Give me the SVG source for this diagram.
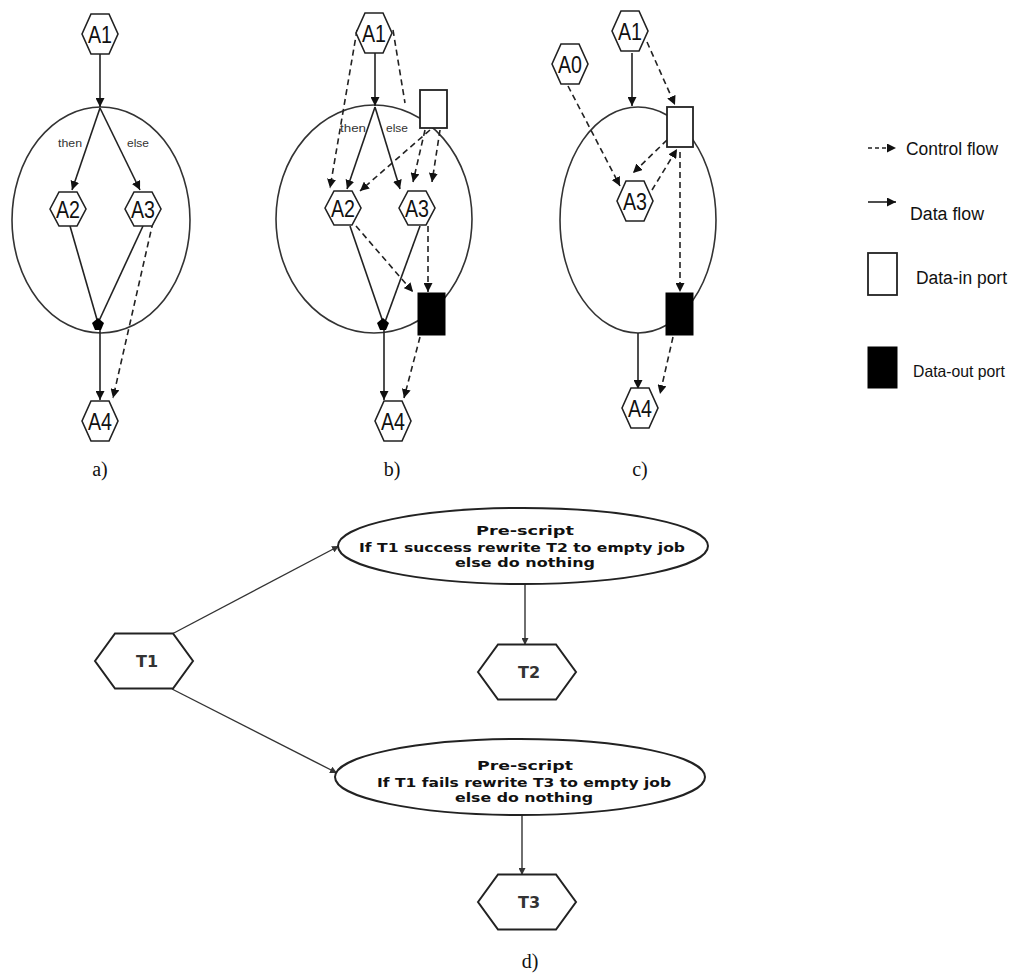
<svg xmlns="http://www.w3.org/2000/svg" width="1016" height="978" viewBox="0 0 1016 978">
<style>
.bg{fill:#fff}
.hex{fill:#fff;stroke:#222;stroke-width:1.6}
.hexd{fill:#fff;stroke:#222;stroke-width:2}
.ell{fill:none;stroke:#333;stroke-width:1.6}
.elld{fill:#fff;stroke:#222;stroke-width:2}
.data{fill:none;stroke:#222;stroke-width:1.6;marker-end:url(#ah)}
.dline{fill:none;stroke:#222;stroke-width:1.6}
.ctrl{fill:none;stroke:#222;stroke-width:1.6;stroke-dasharray:6 4;marker-end:url(#ah)}
.cline{fill:none;stroke:#222;stroke-width:1.6;stroke-dasharray:6 4}
.dd{fill:none;stroke:#333;stroke-width:1.4;marker-end:url(#ahs)}
.inp{fill:#fff;stroke:#222;stroke-width:1.8}
.outp{fill:#000;stroke:#000;stroke-width:1}
.nl{font-family:"Liberation Sans",Arial,sans-serif;font-size:24px;fill:#111;text-anchor:middle}
.lb{font-family:"Liberation Sans",Arial,sans-serif;font-size:11px;fill:#333;text-anchor:middle}
.cap{font-family:"Liberation Serif","Times New Roman",serif;font-size:20px;fill:#111;text-anchor:middle}
.lg{font-family:"Liberation Sans",Arial,sans-serif;font-size:18px;fill:#111}
.tl{font-family:"DejaVu Sans",Verdana,sans-serif;font-size:16px;font-weight:bold;fill:#333;text-anchor:middle}
.ps{font-family:"DejaVu Sans",Verdana,sans-serif;font-size:13px;font-weight:bold;fill:#111;text-anchor:middle}
</style>
<defs>
<marker id="ah" viewBox="0 0 10 10" refX="10" refY="5" markerWidth="9" markerHeight="9" markerUnits="userSpaceOnUse" orient="auto">
<path d="M0,0 L10,5 L0,10 Z" fill="#111"/>
</marker>
<marker id="ahs" viewBox="0 0 10 10" refX="10" refY="5" markerWidth="7" markerHeight="7" markerUnits="userSpaceOnUse" orient="auto">
<path d="M0,0 L10,5 L0,10 Z" fill="#333"/>
</marker>
<path id="hx" d="M-18,0 L-9,-20 L9,-20 L18,0 L9,20 L-9,20 Z"/>
<path id="hxs" d="M-18,0 L-9,-17 L9,-17 L18,0 L9,17 L-9,17 Z"/>
<path id="hxd" d="M-49,0 L-29,-27.5 L29,-27.5 L49,0 L29,27.5 L-29,27.5 Z"/>
</defs>
<rect class="bg" x="0" y="0" width="1016" height="978"/>

<!-- containers (ellipses) -->
<g id="container-a"><ellipse class="ell" cx="101" cy="220" rx="89" ry="113"/></g>
<g id="container-b"><ellipse class="ell" cx="374" cy="219" rx="98" ry="114"/></g>
<g id="container-c"><ellipse class="ell" cx="638" cy="220" rx="78" ry="113"/></g>

<!-- connectors -->
<g id="connectors">
<!-- panel a -->
<line class="data" x1="100" y1="54" x2="100" y2="107"/>
<line class="data" x1="100" y1="108" x2="72" y2="190"/>
<line class="data" x1="100" y1="108" x2="140" y2="190"/>
<line class="dline" x1="70" y1="226" x2="98" y2="323"/>
<line class="dline" x1="143" y1="226" x2="98" y2="323"/>
<line class="data" x1="100" y1="330" x2="100" y2="400"/>
<line class="ctrl" x1="153" y1="222" x2="113" y2="398"/>
<!-- panel b -->
<line class="data" x1="375" y1="53" x2="375" y2="106"/>
<line class="data" x1="375" y1="107" x2="347" y2="189"/>
<line class="data" x1="375" y1="107" x2="400" y2="189"/>
<line class="ctrl" x1="357" y1="30" x2="330" y2="188"/>
<line class="cline" x1="393" y1="30" x2="405" y2="103"/>
<line class="ctrl" x1="430" y1="130" x2="360" y2="191"/>
<line class="ctrl" x1="425" y1="130" x2="413" y2="182"/>
<line class="ctrl" x1="440" y1="130" x2="432" y2="182"/>
<line class="dline" x1="350" y1="226" x2="383" y2="322"/>
<line class="dline" x1="420" y1="226" x2="385" y2="322"/>
<line class="ctrl" x1="356" y1="226" x2="413" y2="292"/>
<line class="ctrl" x1="428" y1="226" x2="428" y2="292"/>
<line class="data" x1="384" y1="330" x2="384" y2="400"/>
<line class="ctrl" x1="420" y1="337" x2="404" y2="398"/>
<!-- panel c -->
<line class="data" x1="632" y1="53" x2="632" y2="106"/>
<line class="ctrl" x1="647" y1="42" x2="675" y2="105"/>
<line class="ctrl" x1="568" y1="86" x2="620" y2="186"/>
<line class="ctrl" x1="667" y1="140" x2="633" y2="173"/>
<line class="ctrl" x1="652" y1="190" x2="677" y2="149"/>
<line class="ctrl" x1="680" y1="152" x2="680" y2="292"/>
<line class="data" x1="638" y1="333" x2="638" y2="389"/>
<line class="ctrl" x1="673" y1="337" x2="660" y2="394"/>
<!-- panel d -->
<line class="dd" x1="172" y1="634" x2="339" y2="546"/>
<line class="dd" x1="172" y1="689" x2="337" y2="773"/>
<line class="dd" x1="525" y1="584" x2="525" y2="645"/>
<line class="dd" x1="522" y1="815" x2="522" y2="875"/>
</g>

<!-- merge points -->
<g id="merge-a"><polygon points="92,323 98,318 104,323 101,330 95,330" fill="#000"/></g>
<g id="merge-b"><polygon points="377,323 383,318 389,323 386,330 380,330" fill="#000"/></g>

<!-- labels then/else -->
<g id="cond-labels">
<text class="lb" x="70" y="147" textLength="24" lengthAdjust="spacingAndGlyphs">then</text>
<text class="lb" x="138" y="147" textLength="22" lengthAdjust="spacingAndGlyphs">else</text>
<text class="lb" x="353" y="132" textLength="26" lengthAdjust="spacingAndGlyphs">then</text>
<text class="lb" x="397" y="132" textLength="22" lengthAdjust="spacingAndGlyphs">else</text>
</g>

<!-- ports -->
<g id="port-in-b"><rect class="inp" x="420" y="90" width="27" height="38"/></g>
<g id="port-out-b"><rect class="outp" x="418" y="293" width="27" height="42"/></g>
<g id="port-in-c"><rect class="inp" x="667" y="107" width="26" height="40"/></g>
<g id="port-out-c"><rect class="outp" x="666" y="293" width="27" height="42"/></g>

<!-- panel a nodes -->
<g id="a-A1"><use href="#hx" class="hex" x="100" y="34"/><text class="nl" x="100" y="43" textLength="24" lengthAdjust="spacingAndGlyphs">A1</text></g>
<g id="a-A2"><use href="#hxs" class="hex" x="68" y="209"/><text class="nl" x="68" y="218" textLength="24" lengthAdjust="spacingAndGlyphs">A2</text></g>
<g id="a-A3"><use href="#hxs" class="hex" x="143" y="209"/><text class="nl" x="143" y="218" textLength="24" lengthAdjust="spacingAndGlyphs">A3</text></g>
<g id="a-A4"><use href="#hx" class="hex" x="100" y="421"/><text class="nl" x="100" y="430" textLength="24" lengthAdjust="spacingAndGlyphs">A4</text></g>

<!-- panel b nodes -->
<g id="b-A1"><use href="#hx" class="hex" x="374" y="33"/><text class="nl" x="374" y="42" textLength="24" lengthAdjust="spacingAndGlyphs">A1</text></g>
<g id="b-A2"><use href="#hxs" class="hex" x="343" y="208"/><text class="nl" x="343" y="217" textLength="24" lengthAdjust="spacingAndGlyphs">A2</text></g>
<g id="b-A3"><use href="#hxs" class="hex" x="417" y="208"/><text class="nl" x="417" y="217" textLength="24" lengthAdjust="spacingAndGlyphs">A3</text></g>
<g id="b-A4"><use href="#hx" class="hex" x="393" y="421"/><text class="nl" x="393" y="430" textLength="24" lengthAdjust="spacingAndGlyphs">A4</text></g>

<!-- panel c nodes -->
<g id="c-A1"><use href="#hx" class="hex" x="630" y="31"/><text class="nl" x="630" y="40" textLength="24" lengthAdjust="spacingAndGlyphs">A1</text></g>
<g id="c-A0"><use href="#hx" class="hex" x="570" y="64"/><text class="nl" x="570" y="73" textLength="24" lengthAdjust="spacingAndGlyphs">A0</text></g>
<g id="c-A3"><use href="#hx" class="hex" x="635" y="201"/><text class="nl" x="635" y="210" textLength="24" lengthAdjust="spacingAndGlyphs">A3</text></g>
<g id="c-A4"><use href="#hx" class="hex" x="640" y="408"/><text class="nl" x="640" y="417" textLength="24" lengthAdjust="spacingAndGlyphs">A4</text></g>

<!-- captions -->
<g id="captions">
<text class="cap" x="100" y="476">a)</text>
<text class="cap" x="392" y="476">b)</text>
<text class="cap" x="640" y="476">c)</text>
<text class="cap" x="530" y="968">d)</text>
</g>

<!-- legend -->
<g id="legend">
<line class="ctrl" x1="868" y1="148" x2="896" y2="148" style="stroke-dasharray:4 3"/>
<text class="lg" x="906" y="155" textLength="92" lengthAdjust="spacingAndGlyphs">Control flow</text>
<line class="data" x1="868" y1="202" x2="896" y2="202"/>
<text class="lg" x="910" y="220" textLength="74" lengthAdjust="spacingAndGlyphs">Data flow</text>
<rect class="inp" x="868" y="253" width="29" height="42"/>
<text class="lg" x="916" y="284" textLength="91" lengthAdjust="spacingAndGlyphs">Data-in port</text>
<rect class="outp" x="868" y="347" width="29" height="41"/>
<text class="lg" x="913" y="377" style="font-size:16.5px" textLength="92" lengthAdjust="spacingAndGlyphs">Data-out port</text>
</g>

<!-- panel d nodes -->
<g id="d-T1"><use href="#hxd" class="hexd" x="144" y="661"/><text class="tl" x="147" y="667">T1</text></g>
<g id="d-pre1"><ellipse class="elld" cx="523" cy="546" rx="185" ry="38"/>
<text class="ps" x="525" y="535" textLength="98" lengthAdjust="spacingAndGlyphs">Pre-script</text>
<text class="ps" x="522" y="552" textLength="326" lengthAdjust="spacingAndGlyphs">If T1 success rewrite T2 to empty job</text>
<text class="ps" x="525" y="567" textLength="140" lengthAdjust="spacingAndGlyphs">else do nothing</text></g>
<g id="d-T2"><use href="#hxd" class="hexd" x="527" y="672"/><text class="tl" x="529" y="678">T2</text></g>
<g id="d-pre2"><ellipse class="elld" cx="520" cy="777" rx="185" ry="38"/>
<text class="ps" x="525" y="770" textLength="96" lengthAdjust="spacingAndGlyphs">Pre-script</text>
<text class="ps" x="524" y="787" textLength="294" lengthAdjust="spacingAndGlyphs">If T1 fails rewrite T3 to empty job</text>
<text class="ps" x="524" y="802" textLength="138" lengthAdjust="spacingAndGlyphs">else do nothing</text></g>
<g id="d-T3"><use href="#hxd" class="hexd" x="527" y="902"/><text class="tl" x="529" y="908">T3</text></g>
</svg>
